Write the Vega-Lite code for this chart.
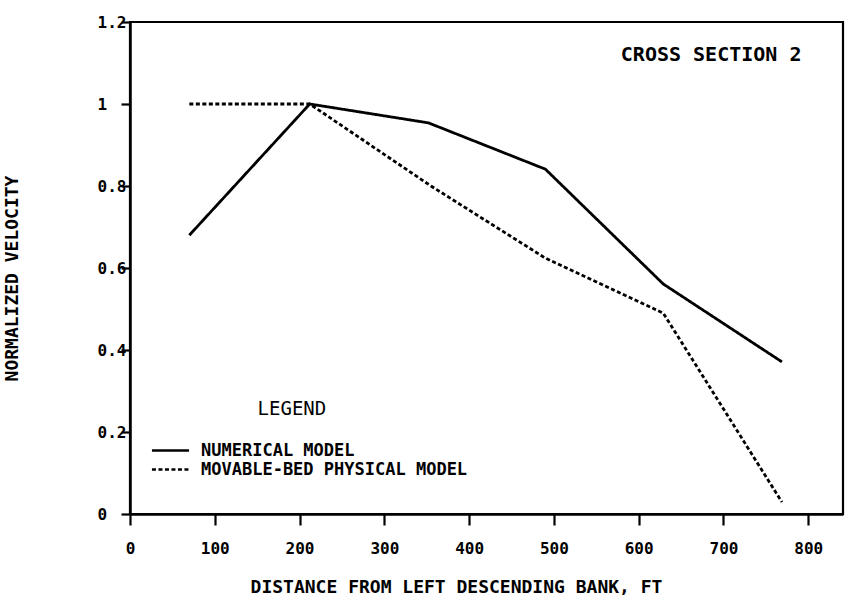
{
  "$schema": "https://vega.github.io/schema/vega-lite/v6.json",
  "width": 713,
  "height": 492,
  "autosize": {"type": "none"},
  "padding": {"left": 130, "top": 22, "right": 2, "bottom": 91},
  "background": "white",
  "config": {
    "view": {"stroke": "black", "strokeWidth": 2.2},
    "font": "DejaVu Sans Mono",
    "axis": {
      "domainColor": "black",
      "domainWidth": 2.5,
      "tickColor": "black",
      "tickWidth": 2.2,
      "grid": false,
      "labelFont": "DejaVu Sans Mono",
      "labelFontWeight": "bold",
      "labelFontSize": 16,
      "labelColor": "black",
      "titleFont": "DejaVu Sans Mono",
      "titleFontWeight": "bold",
      "titleColor": "black"
    }
  },
  "datasets": {
    "velocity": [
      {"model": "NUMERICAL MODEL", "distance": 70, "velocity": 0.68},
      {"model": "NUMERICAL MODEL", "distance": 212, "velocity": 1.0},
      {"model": "NUMERICAL MODEL", "distance": 352, "velocity": 0.954},
      {"model": "NUMERICAL MODEL", "distance": 490, "velocity": 0.841},
      {"model": "NUMERICAL MODEL", "distance": 629, "velocity": 0.561},
      {"model": "NUMERICAL MODEL", "distance": 769, "velocity": 0.371},
      {"model": "MOVABLE-BED PHYSICAL MODEL", "distance": 70, "velocity": 1.0},
      {"model": "MOVABLE-BED PHYSICAL MODEL", "distance": 212, "velocity": 1.0},
      {"model": "MOVABLE-BED PHYSICAL MODEL", "distance": 355, "velocity": 0.8},
      {"model": "MOVABLE-BED PHYSICAL MODEL", "distance": 490, "velocity": 0.624},
      {"model": "MOVABLE-BED PHYSICAL MODEL", "distance": 629, "velocity": 0.49},
      {"model": "MOVABLE-BED PHYSICAL MODEL", "distance": 769, "velocity": 0.029}
    ],
    "notes": [
      {"label": "CROSS SECTION 2", "distance": 792, "velocity": 1.12}
    ],
    "legendHeading": [
      {"label": "LEGEND", "distance": 191, "velocity": 0.256}
    ]
  },
  "layer": [
    {
      "data": {"name": "velocity"},
      "mark": {"type": "line", "color": "black", "strokeWidth": 2.8},
      "encoding": {
        "x": {
          "field": "distance",
          "type": "quantitative",
          "scale": {"domain": [0, 841], "nice": false, "zero": false},
          "axis": {
            "values": [0, 100, 200, 300, 400, 500, 600, 700, 800],
            "tickSize": 11,
            "labelPadding": 23,
            "labelBaseline": "middle",
            "labelFlush": false,
            "title": "DISTANCE FROM LEFT DESCENDING BANK, FT",
            "titleFontSize": 18,
            "titleX": 326,
            "titleY": 73,
            "titleBaseline": "middle",
            "titleAnchor": "middle"
          }
        },
        "y": {
          "field": "velocity",
          "type": "quantitative",
          "scale": {"domain": [0, 1.2], "nice": false},
          "axis": {
            "values": [0, 0.2, 0.4, 0.6, 0.8, 1, 1.2],
            "labelExpr": "format(datum.value, '.1~f')",
            "tickSize": 9,
            "labelAlign": "left",
            "labelPadding": 24,
            "labelBaseline": "middle",
            "labelFlush": false,
            "title": "NORMALIZED VELOCITY",
            "titleFontSize": 18,
            "titleX": -118,
            "titleY": 256,
            "titleBaseline": "middle",
            "titleAnchor": "middle"
          }
        },
        "detail": {"field": "model"},
        "strokeDash": {
          "field": "model",
          "type": "nominal",
          "scale": {
            "domain": ["NUMERICAL MODEL", "MOVABLE-BED PHYSICAL MODEL"],
            "range": [[1, 0], [4, 2.5]]
          },
          "legend": {
            "title": null,
            "orient": "none",
            "legendX": 32,
            "legendY": 420,
            "padding": 0,
            "symbolType": "M-4,0H4",
            "symbolSize": 86,
            "symbolStrokeWidth": 2.6,
            "symbolStrokeColor": "black",
            "labelFont": "DejaVu Sans Mono",
            "labelFontWeight": "bold",
            "labelFontSize": 17,
            "labelColor": "black",
            "labelOffset": 22,
            "rowPadding": 1,
            "labelLimit": 400
          }
        }
      }
    },
    {
      "data": {"name": "notes"},
      "mark": {
        "type": "text",
        "align": "right",
        "baseline": "middle",
        "font": "DejaVu Sans Mono",
        "fontWeight": "bold",
        "fontSize": 20,
        "color": "black"
      },
      "encoding": {
        "x": {"field": "distance", "type": "quantitative"},
        "y": {"field": "velocity", "type": "quantitative"},
        "text": {"field": "label"}
      }
    },
    {
      "data": {"name": "legendHeading"},
      "mark": {
        "type": "text",
        "align": "center",
        "baseline": "middle",
        "font": "DejaVu Sans Mono",
        "fontSize": 19,
        "color": "black"
      },
      "encoding": {
        "x": {"field": "distance", "type": "quantitative"},
        "y": {"field": "velocity", "type": "quantitative"},
        "text": {"field": "label"}
      }
    }
  ]
}
